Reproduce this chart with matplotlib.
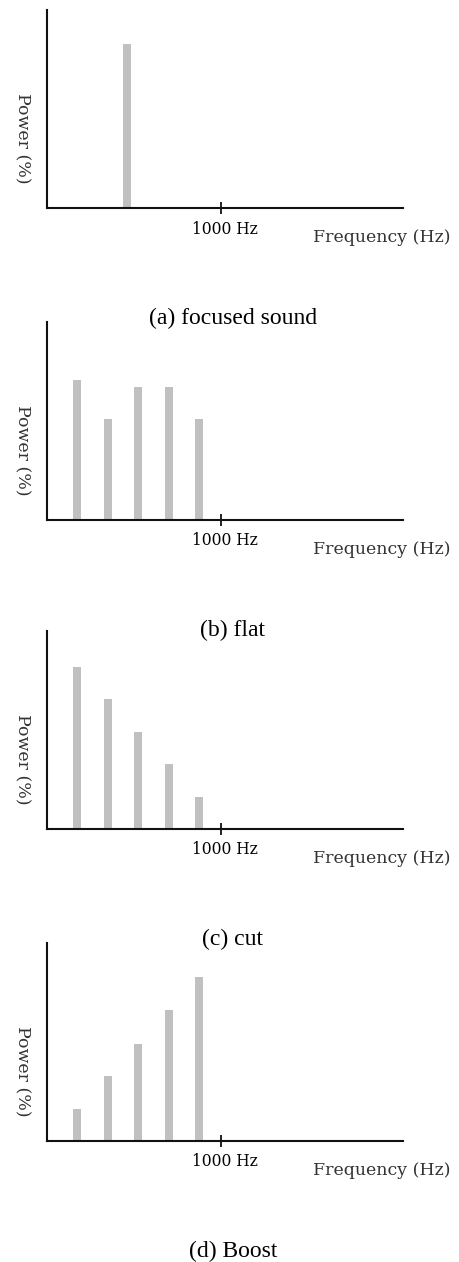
import matplotlib
matplotlib.use("Agg")
import matplotlib.pyplot as plt
import matplotlib.transforms as mtransforms

# Panel captions
captions = ['(a) focused sound', '(b) flat', '(c) cut', '(d) Boost']

# Bar positions (Hz) and heights (% power)
freq_focus = [460]
power_focus = [101]
freq_bands = [175, 350, 525, 700, 875]
power_flat = [86, 62, 82, 82, 62]
power_cut = [100, 80, 60, 40, 20]
power_boost = [20, 40, 60, 81, 101]

tick_freq = [1000]
tick_labels = ['1000 Hz']

panels = [
    (freq_focus, power_focus),
    (freq_bands, power_flat),
    (freq_bands, power_cut),
    (freq_bands, power_boost),
]

W, H = 460, 1262
fig = plt.figure(figsize=(W / 100, H / 100), dpi=100)

# pixel layout of each axes (x-axis row, top of y-axis)
ax_left, ax_width = 47, 356
ax_height = 198
axis_rows = [208, 520, 829, 1141]

# tick label sits a little right of its tick in the original
shift = mtransforms.ScaledTranslation(4 / 100, 0, fig.dpi_scale_trans)

for (freqs, power), caption, row in zip(panels, captions, axis_rows):
    ax = fig.add_axes([ax_left / W, (H - row) / H, ax_width / W, ax_height / H])
    ax.patch.set_visible(False)
    ax.bar(freqs, power, width=46, color='#c0c0c0', zorder=1)
    ax.set_xlim(0, 2050)
    ax.set_ylim(0, 122)

    for s in ['top', 'right']:
        ax.spines[s].set_visible(False)
    for s in ['left', 'bottom']:
        ax.spines[s].set_linewidth(1.5)
        ax.spines[s].set_color('#111111')

    ax.set_yticks([])
    ax.set_xticks(tick_freq)
    ax.set_xticklabels(tick_labels, family='DejaVu Serif', fontsize=11.2)
    ax.tick_params(axis='x', direction='inout', length=8, width=1.3, pad=5, color='#111111')
    for lbl in ax.get_xticklabels():
        lbl.set_transform(lbl.get_transform() + shift)

    ax.set_xlabel('Frequency (Hz)', family='DejaVu Serif', fontsize=12.5, color='#333333')
    ax.xaxis.set_label_coords(0.94, -0.106)
    ax.set_ylabel('Power (%)', family='DejaVu Serif', fontsize=12.5, color='#333333',
                  rotation=270, va='center')
    ax.yaxis.set_label_coords(-0.07, 0.354)

    ax.text(0.522, -0.556, caption, transform=ax.transAxes, ha='center', va='center',
            family='Liberation Serif', fontsize=17, clip_on=False)

fig.savefig('out.png', dpi=100)
